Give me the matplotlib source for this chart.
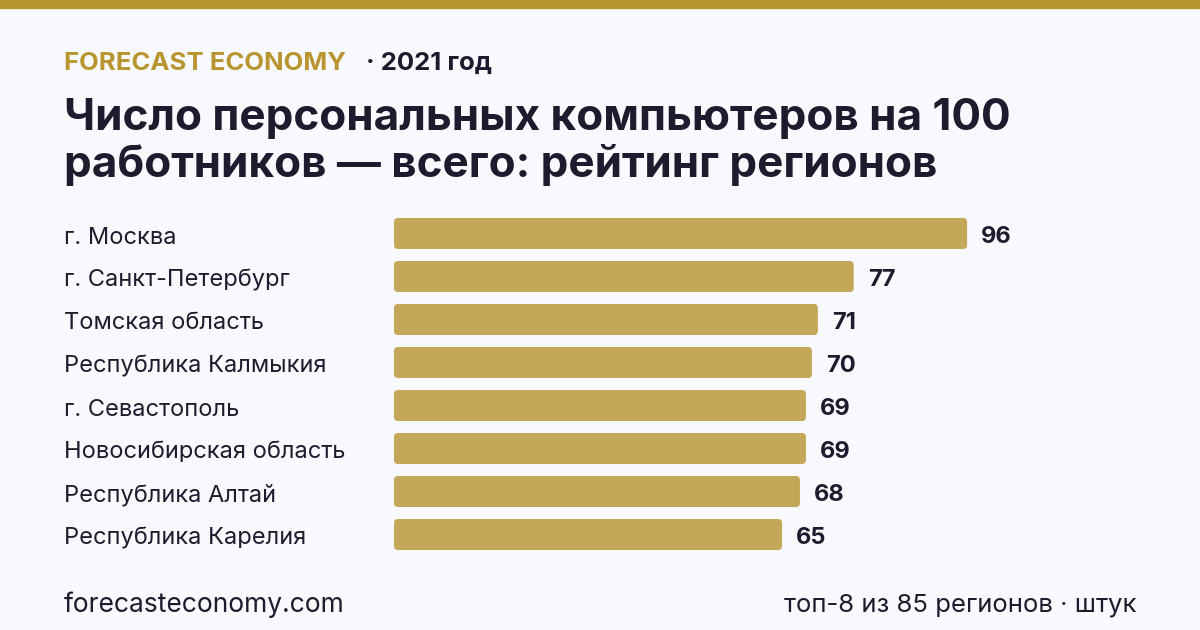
import matplotlib

matplotlib.use("Agg")
import matplotlib.pyplot as plt
from matplotlib.patches import FancyBboxPatch, Rectangle

plt.rcParams["font.family"] = ["Inter", "DejaVu Sans"]

regions = [
    "г. Москва",
    "г. Санкт-Петербург",
    "Томская область",
    "Республика Калмыкия",
    "г. Севастополь",
    "Новосибирская область",
    "Республика Алтай",
    "Республика Карелия",
]
values = [96, 77, 71, 70, 69, 69, 68, 65]

W, H = 1200, 630
BG = "#f7f9fc"
GOLD = "#b8952e"
BAR = "#c4a85a"
DARK = "#1c1c2e"


def fx(px):
    return px / W


def fy(py):
    return 1 - py / H


fig = plt.figure(figsize=(W / 100, H / 100), dpi=100, facecolor=BG)
fig.patches.append(Rectangle((0, fy(8)), 1, 8 / H, transform=fig.transFigure, color=GOLD, zorder=0))

fig.text(fx(64), fy(70), "FORECAST ECONOMY", color=GOLD, fontsize=18.5, fontweight="bold", va="baseline")
fig.text(fx(366), fy(70), "· 2021 год", color=DARK, fontsize=18.5, fontweight="bold", va="baseline")
fig.text(fx(64), fy(130), "Число персональных компьютеров на 100",
         color=DARK, fontsize=31.7, fontweight="bold", va="baseline")
fig.text(fx(64), fy(177), "работников — всего: рейтинг регионов",
         color=DARK, fontsize=31.7, fontweight="bold", va="baseline")

# bar area: x 0..100 -> px 394..991, bar rows centred from px 233.5 every 43
row0, step = 233.5, 43.0
top_px, bot_px = 210, 560
ax = fig.add_axes([fx(394), fy(bot_px), (991 - 394) / W, (bot_px - top_px) / H])
ax.set_xlim(0, 100)
ax.set_ylim((bot_px - row0) / step, (top_px - row0) / step)
ax.axis("off")
ax.patch.set_alpha(0)

bar_h = 31 / step
x_per_px = 100 / (991 - 394)
y_per_px = 1 / step
r = 4 * x_per_px
text_dy = 4 * y_per_px
for i, (name, v) in enumerate(zip(regions, values)):
    ax.add_patch(FancyBboxPatch((0, i - bar_h / 2), v, bar_h,
                                boxstyle=f"round,pad=0,rounding_size={r}",
                                mutation_aspect=y_per_px / x_per_px,
                                facecolor=BAR, edgecolor="none"))
    ax.text(v + 14 * x_per_px, i + text_dy, f"{v}", color=DARK, fontsize=17, fontweight="bold",
            va="center", ha="left")
    fig.text(fx(64), fy(row0 + 4 + i * step), name, color=DARK, fontsize=17, va="center", ha="left")

fig.text(fx(64), fy(605), "forecasteconomy.com", color=DARK, fontsize=19, va="center")
fig.text(fx(1136), fy(605), "топ-8 из 85 регионов · штук", color=DARK, fontsize=18.5, va="center", ha="right")

fig.savefig("out.png", dpi=100, facecolor=BG)
